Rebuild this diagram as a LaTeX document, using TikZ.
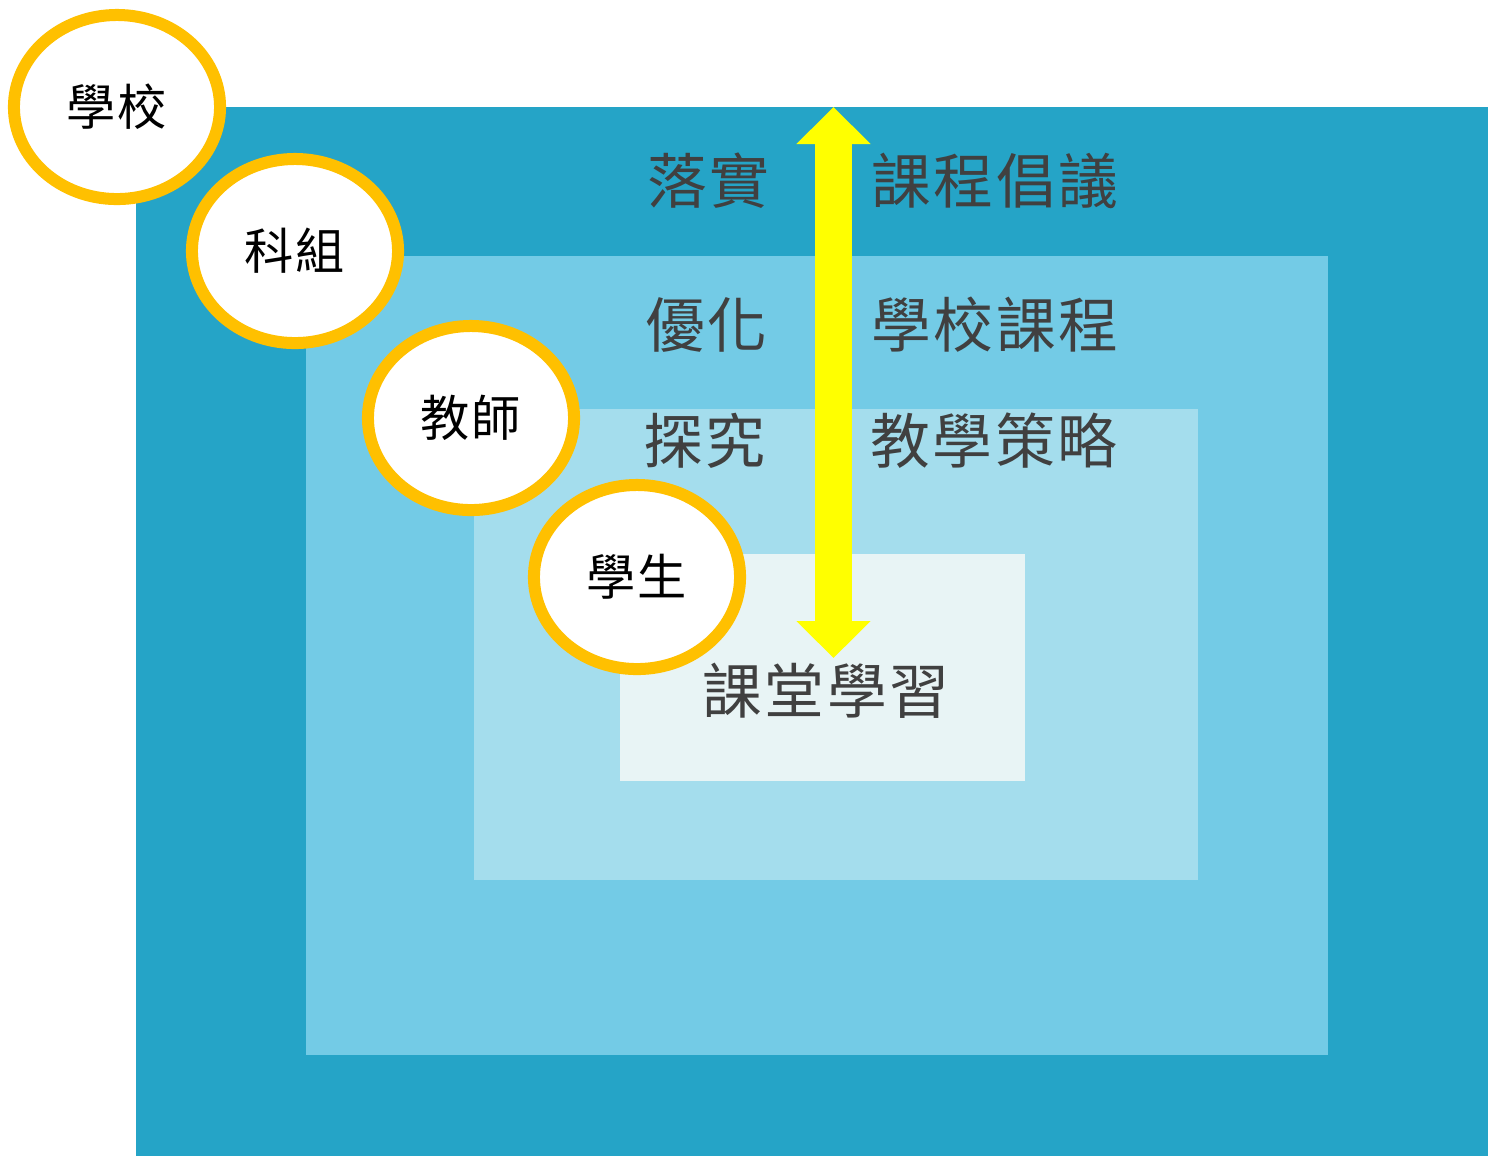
\documentclass[tikz,border=0pt]{standalone}
\usepackage{fontspec}
\newfontfamily\cjk[LetterSpace=4]{Noto Sans CJK TC}
\usepackage{tikz}
\usetikzlibrary{shapes.geometric,arrows.meta,positioning}
\usepackage{xcolor}
\definecolor{cDeep}{RGB}{37,164,199}
\definecolor{cMid}{RGB}{115,203,230}
\definecolor{cLight}{RGB}{164,221,237}
\definecolor{cPale}{RGB}{232,244,245}
\definecolor{cGold}{RGB}{255,192,0}
\definecolor{cArrow}{RGB}{255,255,0}
\definecolor{cText}{RGB}{64,64,64}
\tikzset{
  levelbox/.style={draw=none},
  rolenode/.style={ellipse,draw=cGold,fill=white,line width=0.12cm,
                   minimum width=2.06cm,minimum height=1.84cm,inner sep=0pt,
                   font=\cjk\fontsize{14pt}{16pt}\selectfont,text=black},
  tagnode/.style={inner sep=0pt,text=cText,
                  font=\cjk\fontsize{17pt}{20pt}\selectfont},
  bigarr/.style={{Triangle[width=0.72cm,length=0.37cm]}-{Triangle[width=0.72cm,length=0.37cm]},
                 line width=0.37cm,color=cArrow}
}
\begin{document}
\begin{tikzpicture}[x=0.01cm,y=-0.01cm]
  \useasboundingbox (0,0) rectangle (1488,1156);
  % nested levels
  \fill[cDeep]  (136,107) rectangle (1488,1156);
  \fill[cMid]   (306,256) rectangle (1328,1055);
  \fill[cLight] (474,409) rectangle (1198,880);
  \fill[cPale]  (620,554) rectangle (1025,781);
  % two-way arrow
  \coordinate (arrTop) at (833.5,107);
  \coordinate (arrBot) at (833.5,658);
  \draw[bigarr] (arrTop) -- (arrBot);
  % labels
  \node[tagnode] (luoshi)  at (708,181) {落實};
  \node[tagnode] (changyi) at (995,181) {課程倡議};
  \node[tagnode] (youhua)  at (706,325) {優化};
  \node[tagnode] (xiaoke)  at (995,325) {學校課程};
  \node[tagnode] (tanjiu)  at (704,441) {探究};
  \node[tagnode] (celue)   at (994,441) {教學策略};
  \node[tagnode] (ketang)  at (826,691) {課堂學習};
  % roles
  \node[rolenode] (school)  at (117,107) {學校};
  \node[rolenode] (subject) at (295,251) {科組};
  \node[rolenode] (teacher) at (471,418) {教師};
  \node[rolenode] (student) at (637,577) {學生};
\end{tikzpicture}
\end{document}
